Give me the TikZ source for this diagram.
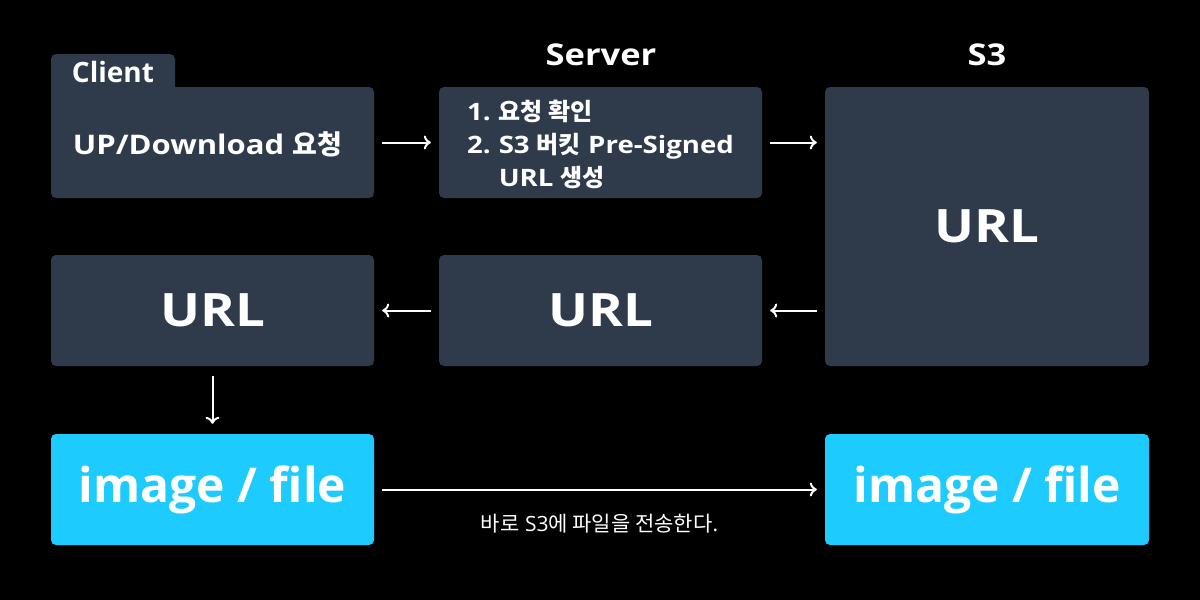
\documentclass[tikz,border=0pt]{standalone}
\usepackage{fontspec}
\setmainfont{Open Sans}
\newfontfamily\widesans{Open Sans}[FakeStretch=1.15]
\newfontfamily\kr{Noto Sans CJK KR}
\usetikzlibrary{arrows.meta}
\definecolor{boxgray}{HTML}{2F3B4B}
\definecolor{boxcyan}{HTML}{1DCBFE}

\begin{document}
\begin{tikzpicture}[
		x=1pt, y=-1pt,
		mybox/.style={fill=boxgray, rounded corners=5pt, minimum width=323pt, minimum height=111pt, inner sep=0pt, text=white, font=\bfseries},
		intext/.style={text=white, font=\widesans\bfseries\fontsize{#1}{33}\selectfont},
		filebox/.style={mybox, fill=boxcyan, font=\bfseries\fontsize{48}{52}\selectfont},
		urlbox/.style={mybox, font=\widesans\bfseries\fontsize{46}{52}\selectfont},
		title/.style={text=white, font=\widesans\bfseries\fontsize{30}{34}\selectfont},
		link/.style={-{To[length=7pt, width=14pt]}, draw=white, line width=2pt, shorten <=8pt, shorten >=8pt}
	]

	\fill[black] (0,0) rectangle (1200,600);

	\fill[boxgray, rounded corners=5pt] (51,54) rectangle (175,110);
	\node[text=white, font=\bfseries\fontsize{28}{32}\selectfont] (clienttitle) at (113,72) {Client};
	\node[mybox, label={[intext=27, xshift=-5pt, yshift=-2pt]center:UP/Download {\kr 요청}}] (client) at (212.5,142.5) {};

	\node[title] (srvtitle) at (601,55) {Server};
	\node[mybox, label={[intext=24, yshift=-4.5pt]center:{%
		\begin{tabular}{@{}r@{\hspace{8pt}}l@{}}
			1. & {\kr 요청 확인} \\
			2. & S3 {\kr 버킷} Pre-Signed \\
			   & URL {\kr 생성}
		\end{tabular}}}] (srv) at (600.5,142.5) {};

	\node[title] (s3title) at (987,55) {S3};
	\node[urlbox, minimum width=324pt, minimum height=279pt] (s3) at (987,226.5) {URL};

	\node[urlbox] (urlc) at (212.5,310.5) {URL};
	\node[urlbox] (urls) at (600.5,310.5) {URL};

	\node[filebox] (filec) at (212.5,489.5) {image / file};
	\node[filebox, minimum width=324pt] (files) at (987,489.5) {image / file};

	\draw[link] (client) -- (srv);
	\draw[link] (srv.east) -- (s3.west |- srv.east);
	\draw[link] (s3.west |- urls.east) -- (urls);
	\draw[link] (urls) -- (urlc);
	\draw[link, shorten <=10pt, shorten >=10pt] (urlc) -- (filec);
	\draw[link] (filec) -- (files) node[midway, yshift=-34pt, text=white, font=\fontsize{21}{24}\selectfont] (sendlabel) {{\kr 바로} S3{\kr 에 파일을 전송한다}.};

\end{tikzpicture}
\end{document}
